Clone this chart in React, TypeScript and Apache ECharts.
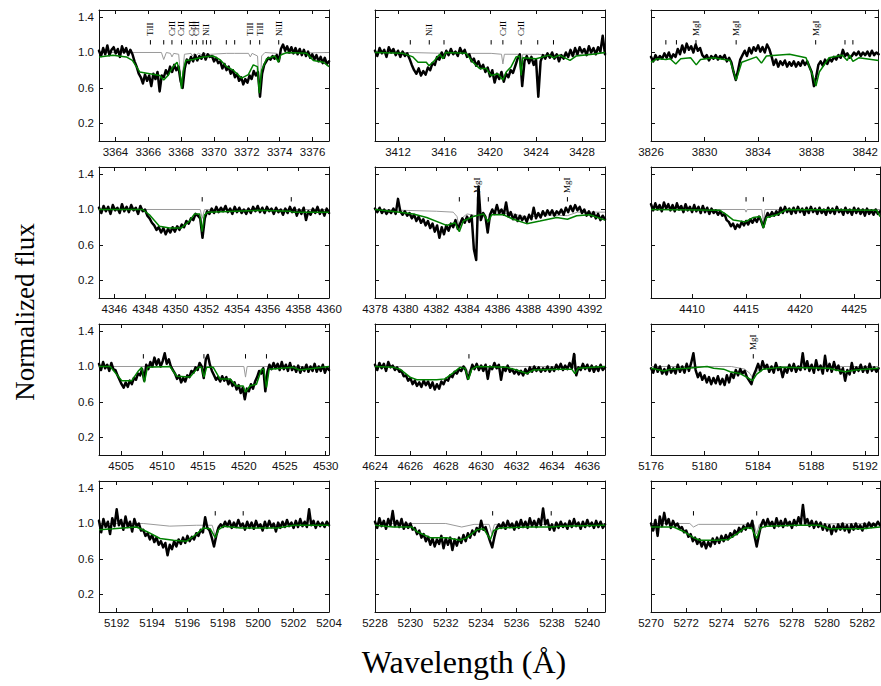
import React, { useEffect, useRef } from "react";
import * as echarts from "echarts";

// ---- wavelength windows (Å) and tick labels ----
const xlim1 = [3363, 3377];
const xlim2 = [3410, 3430];
const xlim3 = [3826, 3843];
const xlim4 = [4345, 4360];
const xlim5 = [4378, 4393];
const xlim6 = [4406.2, 4427.4];
const xlim7 = [4502.3, 4530.4];
const xlim8 = [4624, 4637];
const xlim9 = [5176, 5193];
const xlim10 = [5191, 5204];
const xlim11 = [5228, 5241];
const xlim12 = [5270, 5283];

const ticks1 = [3364, 3366, 3368, 3370, 3372, 3374, 3376];
const ticks2 = [3412, 3416, 3420, 3424, 3428];
const ticks3 = [3826, 3830, 3834, 3838, 3842];
const ticks4 = [4346, 4348, 4350, 4352, 4354, 4356, 4358, 4360];
const ticks5 = [4378, 4380, 4382, 4384, 4386, 4388, 4390, 4392];
const ticks6 = [4410, 4415, 4420, 4425];
const ticks7 = [4505, 4510, 4515, 4520, 4525, 4530];
const ticks8 = [4624, 4626, 4628, 4630, 4632, 4634, 4636];
const ticks9 = [5176, 5180, 5184, 5188, 5192];
const ticks10 = [5192, 5194, 5196, 5198, 5200, 5202, 5204];
const ticks11 = [5228, 5230, 5232, 5234, 5236, 5238, 5240];
const ticks12 = [5270, 5272, 5274, 5276, 5278, 5280, 5282];
const fluxTicks = [0.2, 0.6, 1.0, 1.4];

// ---- observed normalized flux, evenly sampled across each window ----
const obs1 = [1.02,0.96,1.05,0.98,1.08,0.97,1.03,1.06,0.99,1.04,0.95,1.07,1.0,1.05,0.97,1.03,0.98,0.9,0.84,0.76,0.72,0.65,0.75,0.68,0.74,0.62,0.76,0.7,0.78,0.56,0.74,0.72,0.8,0.75,0.84,0.78,0.86,0.8,0.84,0.68,0.6,0.82,0.92,0.88,0.95,0.9,0.97,0.91,0.96,0.93,0.99,0.92,0.98,0.95,0.96,0.9,0.94,0.88,0.9,0.82,0.87,0.8,0.84,0.76,0.8,0.72,0.76,0.68,0.72,0.64,0.7,0.66,0.74,0.7,0.79,0.74,0.78,0.5,0.76,0.86,0.9,0.94,0.92,0.96,0.93,0.97,0.9,1.04,1.09,1.02,1.07,1.0,1.06,0.99,1.05,0.98,1.04,0.97,1.03,0.96,1.01,0.94,0.98,0.92,0.97,0.9,0.95,0.88,0.94,0.87,0.9];
const obs2 = [1.02,0.96,1.05,0.99,1.03,0.95,1.06,1.0,1.04,0.97,1.02,0.95,1.01,0.96,0.99,0.93,0.86,0.8,0.76,0.82,0.74,0.79,0.75,0.83,0.8,0.88,0.86,0.95,0.92,1.0,0.94,1.02,0.97,1.04,0.98,1.01,0.96,1.05,0.99,1.03,0.95,0.98,0.9,0.93,0.85,0.9,0.82,0.86,0.78,0.83,0.73,0.8,0.66,0.76,0.7,0.78,0.67,0.76,0.72,0.8,0.77,0.85,0.93,0.98,0.62,0.9,0.96,0.88,0.95,0.86,0.92,0.5,0.9,0.97,0.93,0.99,0.94,1.0,0.93,0.98,0.9,0.97,0.93,1.0,0.95,1.03,0.96,1.05,0.98,1.06,1.0,1.04,0.97,1.07,1.0,1.05,0.98,1.06,1.01,1.19,0.98];
const obs3 = [0.95,0.9,0.97,0.92,0.96,0.93,0.99,0.94,1.0,0.93,0.98,0.95,1.04,0.98,1.08,1.0,1.1,1.03,1.07,1.0,1.09,1.02,1.05,0.97,0.94,0.97,0.91,0.96,0.93,0.97,0.92,0.96,0.93,0.97,0.9,0.94,0.89,0.78,0.69,0.8,0.92,0.97,1.02,0.96,1.05,0.99,1.06,1.02,1.08,1.01,1.06,1.0,1.09,1.04,0.96,0.86,0.92,0.84,0.9,0.86,0.91,0.84,0.89,0.85,0.9,0.84,0.89,0.85,0.91,0.86,0.9,0.84,0.78,0.62,0.72,0.86,0.9,0.85,0.92,0.87,0.93,0.9,0.95,0.92,0.97,0.94,1.03,0.96,0.99,0.94,0.96,1.0,0.97,1.01,0.96,1.0,0.97,1.01,0.96,1.02,0.97,1.0,0.98];
const obs4 = [1.02,0.96,1.04,0.98,1.03,0.95,1.05,0.99,1.02,0.96,1.06,0.98,1.03,0.97,1.05,0.99,1.02,0.95,1.04,0.98,1.0,0.93,0.9,0.85,0.82,0.77,0.8,0.74,0.79,0.72,0.78,0.74,0.8,0.75,0.81,0.77,0.83,0.8,0.87,0.84,0.9,0.88,0.95,0.93,0.9,0.68,0.9,0.98,0.95,1.01,0.96,1.03,0.97,1.02,0.98,1.04,0.97,1.01,0.95,1.03,0.97,1.02,0.96,1.0,0.95,1.01,0.96,1.03,0.98,1.04,0.97,1.02,0.96,1.03,0.98,1.01,0.95,1.02,0.97,1.0,0.94,1.01,0.96,1.03,0.97,1.02,0.93,1.0,0.95,1.02,0.88,0.98,0.94,1.01,0.96,1.03,0.95,1.0,0.93,1.01,0.96];
const obs5 = [1.01,0.97,1.02,0.96,1.0,0.95,0.99,0.96,1.01,0.95,1.12,0.98,0.94,0.98,0.93,0.96,0.9,0.94,0.87,0.92,0.85,0.89,0.82,0.87,0.79,0.84,0.75,0.82,0.68,0.8,0.72,0.82,0.76,0.84,0.8,0.88,0.78,0.84,0.9,0.85,0.92,0.86,0.93,0.55,0.43,1.26,0.88,0.96,0.92,0.74,0.94,1.0,0.95,1.05,0.96,1.0,0.94,1.08,0.92,0.97,0.89,0.94,0.87,0.93,0.88,0.92,0.86,0.94,0.89,1.02,0.9,0.96,0.91,0.98,0.93,0.99,0.94,0.99,0.93,0.98,0.95,1.0,0.94,1.02,0.97,1.04,0.98,1.05,0.99,1.03,0.96,1.0,0.93,0.98,0.92,0.97,0.9,0.95,0.88,0.93,0.89];
const obs6 = [1.06,0.99,1.07,1.0,1.05,0.98,1.08,1.01,1.06,0.99,1.05,0.98,1.07,1.0,1.04,0.97,1.06,0.99,1.03,0.97,1.05,0.98,1.03,0.96,1.04,0.97,1.02,0.95,1.01,0.96,0.99,0.94,0.98,0.93,0.95,0.88,0.86,0.81,0.84,0.78,0.83,0.8,0.86,0.82,0.87,0.83,0.89,0.85,0.9,0.86,0.92,0.87,0.8,0.9,0.96,0.92,0.97,0.93,0.98,0.94,1.02,0.96,1.03,0.97,1.01,0.95,1.02,0.96,1.03,0.97,1.01,0.94,1.02,0.96,1.03,0.97,1.01,0.95,1.02,0.96,1.0,0.94,1.02,0.96,1.01,0.95,1.03,0.97,1.0,0.94,1.02,0.96,1.0,0.94,1.02,0.96,1.01,0.95,1.0,0.93,1.01,0.95,0.99,0.94,1.0,0.95,0.98];
const obs7 = [1.03,0.96,1.05,0.98,1.02,0.95,1.04,0.97,0.96,0.9,0.85,0.8,0.76,0.82,0.77,0.84,0.8,0.87,0.85,0.92,0.9,0.97,0.84,1.02,0.97,1.05,1.0,1.1,1.02,1.08,1.0,1.06,1.15,1.03,1.08,1.0,0.96,0.92,0.86,0.9,0.82,0.87,0.83,0.9,0.88,0.95,0.93,0.99,0.96,1.04,1.0,0.87,1.08,1.13,1.02,0.95,0.9,0.85,0.88,0.83,0.89,0.84,0.88,0.8,0.85,0.78,0.82,0.74,0.79,0.7,0.76,0.63,0.75,0.72,0.8,0.75,0.83,0.88,0.95,0.92,0.98,0.72,0.94,1.02,0.97,1.04,0.98,1.03,0.96,1.05,0.97,1.02,0.95,1.04,0.96,1.0,0.94,1.01,0.93,0.99,0.95,1.02,0.94,1.0,0.95,1.03,0.94,1.0,0.95,1.02,0.93,0.99,0.96];
const obs8 = [1.02,0.96,1.04,0.98,1.03,0.95,1.05,0.99,1.01,0.96,0.99,0.94,0.95,0.89,0.9,0.84,0.87,0.8,0.84,0.78,0.82,0.77,0.84,0.79,0.83,0.76,0.82,0.74,0.8,0.75,0.83,0.8,0.86,0.84,0.9,0.88,0.94,0.92,0.97,0.95,1.0,0.96,0.86,0.93,1.02,0.97,1.03,0.96,1.01,0.95,1.02,0.86,1.0,0.97,1.04,0.98,1.02,0.85,0.99,0.95,1.01,0.94,0.97,0.92,0.96,0.91,0.95,0.9,0.97,0.92,0.99,0.94,1.0,0.95,0.99,0.94,0.98,0.95,1.0,0.94,0.99,0.95,1.02,0.97,1.03,0.96,1.01,0.97,1.04,0.98,1.14,0.9,0.99,0.96,1.03,0.97,1.02,0.95,1.01,0.94,1.0,0.95,1.02,0.96,0.99];
const obs9 = [0.98,0.93,1.02,0.94,1.0,0.92,0.97,0.91,1.01,0.93,0.98,0.92,1.02,0.94,1.0,0.93,1.03,0.95,1.04,1.15,0.96,0.88,0.93,0.85,0.9,0.82,0.88,0.8,0.87,0.81,0.89,0.8,0.86,0.79,0.9,0.82,0.92,0.87,0.96,0.9,0.97,0.92,0.95,0.88,0.84,0.8,0.9,0.96,1.03,0.95,1.06,0.98,1.02,0.94,1.0,0.93,1.04,0.96,0.99,0.88,0.98,0.93,1.02,0.95,1.03,0.94,1.0,0.96,1.15,0.97,1.06,0.95,1.02,0.93,1.07,0.96,1.01,0.92,1.12,0.95,1.03,0.94,1.05,0.96,1.01,0.92,0.98,0.84,0.96,0.91,1.04,0.93,0.99,0.95,1.02,0.94,1.0,0.93,1.03,0.95,0.99,0.94,0.98];
const obs10 = [1.03,0.9,1.05,0.96,1.02,0.88,1.06,0.97,1.16,0.98,1.04,0.93,1.08,0.96,1.02,0.91,1.05,0.97,1.0,0.92,0.93,0.86,0.89,0.82,0.87,0.79,0.84,0.76,0.8,0.73,0.78,0.64,0.76,0.71,0.8,0.74,0.82,0.77,0.84,0.78,0.86,0.8,0.85,0.82,0.89,0.86,0.93,0.9,1.07,0.95,0.92,0.84,0.74,0.86,0.95,0.99,0.96,1.02,0.97,1.03,0.95,1.01,0.96,1.04,0.97,1.0,0.93,1.02,0.95,1.01,0.94,1.03,0.96,0.99,0.92,1.02,0.95,1.03,0.96,1.0,0.91,1.01,0.95,1.02,0.96,1.04,0.97,1.01,0.95,1.03,0.96,1.05,0.97,1.02,0.96,1.16,0.98,1.03,0.95,1.02,0.97,1.01,0.96,1.02,0.98];
const obs11 = [1.02,0.95,1.06,0.97,1.03,0.94,1.05,0.98,1.14,0.97,1.03,0.96,1.05,0.94,1.01,0.95,1.0,0.93,0.95,0.88,0.92,0.84,0.88,0.8,0.85,0.76,0.83,0.74,0.82,0.77,0.86,0.72,0.83,0.76,0.84,0.7,0.82,0.75,0.84,0.78,0.87,0.8,0.89,0.84,0.92,0.87,0.95,0.91,1.03,0.93,0.96,0.88,0.8,0.73,0.85,0.95,0.99,0.95,1.01,0.94,1.03,0.96,1.0,0.93,1.02,0.95,1.04,0.96,1.02,0.95,1.06,0.97,1.03,0.96,1.05,0.98,1.17,0.99,1.04,0.93,0.99,0.92,1.01,0.95,1.02,0.96,1.0,0.94,1.03,0.96,1.05,0.97,1.01,0.94,1.02,0.96,1.04,0.97,1.01,0.95,1.03,0.96,1.02,0.95,0.99];
const obs12 = [1.0,0.92,1.04,0.86,1.08,0.97,1.12,0.99,1.05,0.95,1.03,0.97,1.0,0.94,0.96,0.9,0.92,0.85,0.88,0.8,0.84,0.77,0.82,0.74,0.8,0.72,0.79,0.74,0.83,0.77,0.84,0.78,0.86,0.8,0.87,0.82,0.89,0.85,0.92,0.88,0.95,0.91,0.97,0.93,1.0,0.95,1.03,0.86,0.74,0.87,0.98,1.04,0.97,1.05,0.98,1.02,0.95,1.06,0.97,1.03,0.96,1.05,0.98,1.02,0.95,1.04,0.98,1.07,0.99,1.21,1.0,1.05,0.97,1.03,0.95,1.02,0.96,1.01,0.93,0.99,0.92,0.98,0.88,0.97,0.91,0.99,0.93,1.0,0.92,0.98,0.9,0.99,0.93,1.0,0.94,0.98,0.92,1.0,0.95,1.01,0.96,1.0,0.97,1.02,0.98];

// ---- best-fit synthetic spectrum (green), [wavelength, flux] ----
const fit1 = [[3363,0.95],[3363.85,0.97],[3364.66,0.95],[3365.03,0.91],[3365.48,0.78],[3366.09,0.76],[3366.7,0.74],[3366.94,0.69],[3367.2,0.74],[3367.51,0.84],[3367.75,0.89],[3367.92,0.78],[3368.02,0.59],[3368.12,0.78],[3368.28,0.91],[3368.73,0.92],[3369.34,0.95],[3369.95,0.96],[3370.36,0.92],[3370.77,0.84],[3371.17,0.8],[3371.68,0.71],[3372.09,0.75],[3372.39,0.86],[3372.64,0.84],[3372.76,0.54],[3372.9,0.8],[3373.2,0.93],[3373.71,0.96],[3373.92,0.89],[3374.06,0.97],[3374.42,1.0],[3375.64,0.99],[3376.05,0.91],[3376.66,0.89],[3377,0.84]];
const fit2 = [[3410,1.0],[3412.43,0.99],[3413.3,0.95],[3413.74,0.89],[3414.46,0.89],[3414.7,0.85],[3415.18,0.91],[3415.62,0.98],[3415.91,0.93],[3416.14,1.0],[3417.93,0.99],[3418.51,0.89],[3419.09,0.82],[3419.67,0.82],[3420.1,0.74],[3420.68,0.76],[3421.12,0.69],[3421.41,0.78],[3421.84,0.84],[3422.27,0.95],[3422.56,0.96],[3422.71,0.74],[3422.85,0.94],[3424.01,0.93],[3425.17,0.97],[3425.52,0.94],[3426.03,0.97],[3426.96,0.91],[3427.48,0.96],[3428.93,0.98],[3430,1.0]];
const fit3 = [[3826,0.89],[3826.49,0.93],[3827.11,0.92],[3827.43,0.93],[3827.85,0.87],[3828.22,0.93],[3828.96,0.94],[3829.38,0.86],[3829.7,0.92],[3830.68,0.94],[3831.91,0.91],[3832.36,0.69],[3832.78,0.89],[3833.88,0.95],[3834.25,0.88],[3834.62,0.96],[3836.35,0.98],[3837.58,0.94],[3838.2,0.69],[3838.32,0.62],[3838.57,0.78],[3839.3,0.94],[3840.29,0.97],[3840.66,0.91],[3840.83,0.97],[3841.08,0.9],[3841.52,0.94],[3843,0.91]];
const fit4 = [[4345,1.0],[4347.85,1.0],[4348.29,0.94],[4348.94,0.81],[4349.6,0.79],[4350.36,0.79],[4350.9,0.87],[4351.23,0.95],[4351.56,0.95],[4351.73,0.75],[4351.88,0.94],[4352.1,0.97],[4355.48,0.99],[4357.44,0.98],[4357.66,0.97],[4360,0.97]];
const fit5 = [[4378,1.0],[4379.63,0.97],[4380.5,0.95],[4381.37,0.91],[4382.67,0.82],[4383.22,0.85],[4383.5,0.75],[4383.76,0.87],[4384.41,0.92],[4385.07,0.95],[4385.39,0.86],[4385.61,0.94],[4386.37,0.94],[4387.02,0.89],[4387.89,0.84],[4388.76,0.87],[4389.85,0.91],[4390.55,0.89],[4391.15,0.93],[4392.0,0.94],[4393,0.88]];
const fit6 = [[4406.2,1.0],[4412.59,0.99],[4413.21,0.94],[4413.83,0.88],[4414.91,0.86],[4415.68,0.91],[4416.3,0.92],[4416.6,0.79],[4416.91,0.91],[4417.84,0.94],[4418.77,1.0],[4427.1,0.99],[4427.4,0.92]];
const fit7 = [[4502.3,1.0],[4503.66,1.0],[4505.08,0.84],[4505.69,0.84],[4506.3,0.84],[4507.11,0.95],[4507.52,0.99],[4507.85,0.82],[4508.21,0.99],[4510.98,1.0],[4511.79,0.89],[4513.42,0.88],[4514.43,0.99],[4514.84,0.99],[4515.12,0.88],[4515.45,0.99],[4516.26,0.99],[4517.07,0.86],[4518.29,0.86],[4519.11,0.78],[4519.92,0.78],[4520.2,0.71],[4520.73,0.78],[4521.54,0.8],[4522.15,0.97],[4522.44,0.97],[4522.76,0.76],[4523.09,0.97],[4526.02,0.99],[4526.83,0.96],[4530.4,1.0]];
const fit8 = [[4624,1.0],[4625.04,0.99],[4625.41,0.97],[4625.98,0.88],[4626.36,0.85],[4627.49,0.85],[4627.96,0.86],[4628.43,0.93],[4628.81,0.99],[4629.09,0.98],[4629.28,0.85],[4629.47,0.97],[4629.75,1.0],[4631.44,0.99],[4632.01,0.96],[4632.58,0.92],[4632.95,0.96],[4634.46,0.97],[4635.12,0.97],[4635.3,0.92],[4635.49,0.98],[4637,1.0]];
const fit9 = [[5176,0.98],[5176.99,0.95],[5177.48,0.97],[5178.71,0.98],[5180.19,1.0],[5180.68,0.98],[5181.42,0.97],[5181.91,0.94],[5182.65,0.92],[5183.14,0.88],[5183.59,0.84],[5183.88,0.91],[5184.38,0.97],[5185.61,0.99],[5189.3,0.98],[5189.8,0.96],[5190.54,0.94],[5191.27,0.96],[5193,0.98]];
const fit10 = [[5191,0.93],[5191.8,0.94],[5193.12,0.96],[5193.69,0.91],[5194.45,0.83],[5195.21,0.81],[5195.96,0.8],[5196.44,0.87],[5196.91,0.95],[5197.29,0.94],[5197.57,0.84],[5197.76,0.93],[5198.05,0.97],[5198.99,0.95],[5200.13,0.95],[5201.08,0.95],[5202.02,0.98],[5204,0.98]];
const fit11 = [[5228,0.98],[5229.04,0.96],[5230.08,0.96],[5230.36,0.91],[5231.12,0.84],[5232.06,0.84],[5232.82,0.81],[5233.2,0.84],[5233.76,0.93],[5234.14,0.94],[5234.52,0.82],[5234.71,0.92],[5235.09,0.95],[5236.6,0.96],[5237.92,0.96],[5238.49,0.97],[5241,0.98]];
const fit12 = [[5270,0.96],[5271.28,0.96],[5271.85,0.91],[5272.41,0.84],[5272.79,0.81],[5273.73,0.81],[5274.39,0.82],[5274.86,0.88],[5275.33,0.95],[5275.71,0.95],[5276.0,0.83],[5276.21,0.95],[5276.55,0.97],[5278.25,0.98],[5279.57,0.98],[5280.13,0.94],[5282.01,0.94],[5283,0.96]];

// ---- atomic-line-only synthesis (grey), [wavelength, flux] ----
const lines1 = [[3363,1.0],[3366.8,1.0],[3366.94,0.92],[3367.1,1.0],[3367.35,0.99],[3367.44,0.95],[3367.55,0.99],[3367.85,0.98],[3368.02,0.6],[3368.2,0.98],[3368.6,0.99],[3368.68,0.96],[3368.8,0.99],[3368.93,0.97],[3369.05,0.99],[3369.33,0.97],[3369.45,0.99],[3369.54,0.98],[3369.8,0.98],[3370.75,0.99],[3371.26,0.99],[3372.1,0.99],[3372.21,0.95],[3372.32,0.99],[3372.65,0.96],[3372.78,0.5],[3372.9,0.96],[3373.1,1.0],[3373.85,0.99],[3373.94,0.9],[3374.05,0.99],[3377,1.0]];
const lines2 = [[3410,1.0],[3413,1.0],[3416,0.99],[3420.1,0.99],[3421.0,0.98],[3421.12,0.87],[3421.25,0.98],[3422.6,0.98],[3422.71,0.8],[3422.85,0.98],[3424.15,0.98],[3425.52,0.97],[3427,0.97],[3430,1.0]];
const lines3: number[][] = [];
const lines4 = [[4345,1.0],[4351.6,1.0],[4351.73,0.9],[4351.88,1.0],[4357.5,1.0],[4357.55,0.98],[4357.6,1.0],[4360,1.0]];
const lines5 = [[4378,1.0],[4380,0.99],[4382,0.98],[4383.1,0.97],[4383.35,0.92],[4383.5,0.78],[4383.65,0.9],[4384,0.95],[4384.6,0.93],[4384.68,0.88],[4384.8,0.95],[4385.39,0.88],[4385.55,0.96],[4387,0.95],[4388,0.91],[4389,0.94],[4390.55,0.93],[4391.2,0.97],[4393,0.97]];
const lines6 = [[4406.2,1.0],[4414.9,1.0],[4415.0,0.97],[4415.1,1.0],[4416.45,1.0],[4416.6,0.86],[4416.75,1.0],[4427.4,1.0]];
const lines7 = [[4502.3,1.0],[4520.0,1.0],[4520.2,0.88],[4520.4,1.0],[4530.4,1.0]];
const lines8 = [[4624,1.0],[4629.1,1.0],[4629.28,0.93],[4629.45,1.0],[4635.2,1.0],[4635.3,0.97],[4635.4,1.0],[4637,1.0]];
const lines9 = [[5176,1.0],[5182,1.0],[5183.0,0.97],[5183.4,0.92],[5183.59,0.87],[5183.8,0.93],[5184.3,0.99],[5185,1.0],[5193,1.0]];
const lines10 = [[5191,1.0],[5193.5,1.0],[5195,0.97],[5196.5,0.98],[5197.4,0.98],[5197.57,0.86],[5197.75,0.98],[5199.0,0.96],[5199.2,0.98],[5204,0.99]];
const lines11 = [[5228,1.0],[5232,1.0],[5232.9,0.96],[5233.6,0.99],[5234.45,0.99],[5234.6,0.88],[5234.75,0.99],[5237.9,0.99],[5237.96,0.97],[5238.05,0.99],[5241,1.0]];
const lines12 = [[5270,1.0],[5272.2,1.0],[5272.41,0.96],[5272.7,0.99],[5275.85,0.99],[5276.0,0.88],[5276.15,0.99],[5283,1.0]];

// ---- line identifications: [wavelength, species] ----
const marks1: [number, string][] = [[3366.13,"TiII"],[3366.94,""],[3367.44,"CrII"],[3368.02,"CrII"],[3368.68,"CrII"],[3368.93,"CrII"],[3369.33,""],[3369.54,"NiI"],[3369.8,""],[3370.75,""],[3371.26,""],[3372.21,"TiII"],[3372.78,"TiII"],[3373.94,"NiII"]];
const marks2: [number, string][] = [[3413.07,""],[3414.72,"NiI"],[3416.0,""],[3420.1,""],[3421.12,"CrII"],[3422.71,"CrII"],[3424.15,""],[3425.52,""]];
const marks3: [number, string][] = [[3827.11,""],[3827.9,""],[3829.36,"MgI"],[3832.36,"MgI"],[3838.3,"MgI"],[3840.49,""],[3841.08,""]];
const marks4: [number, string][] = [[4351.73,""],[4357.54,""]];
const marks5: [number, string][] = [[4383.5,""],[4384.68,"MgI"],[4385.39,""],[4390.55,"MgI"]];
const marks6: [number, string][] = [[4415.0,""],[4416.6,""]];
const marks7: [number, string][] = [[4507.72,""],[4515.12,""],[4520.2,""],[4522.76,""]];
const marks8: [number, string][] = [[4629.31,""],[4635.3,""]];
const marks9: [number, string][] = [[5183.64,"MgI"]];
const marks10: [number, string][] = [[5197.57,""],[5199.15,""]];
const marks11: [number, string][] = [[5234.65,""],[5237.96,""]];
const marks12: [number, string][] = [[5272.41,""],[5276.0,""]];

const panels = [
  { xlim: xlim1, ticks: ticks1, obs: obs1, fit: fit1, lines: lines1, marks: marks1 },
  { xlim: xlim2, ticks: ticks2, obs: obs2, fit: fit2, lines: lines2, marks: marks2 },
  { xlim: xlim3, ticks: ticks3, obs: obs3, fit: fit3, lines: lines3, marks: marks3 },
  { xlim: xlim4, ticks: ticks4, obs: obs4, fit: fit4, lines: lines4, marks: marks4 },
  { xlim: xlim5, ticks: ticks5, obs: obs5, fit: fit5, lines: lines5, marks: marks5 },
  { xlim: xlim6, ticks: ticks6, obs: obs6, fit: fit6, lines: lines6, marks: marks6 },
  { xlim: xlim7, ticks: ticks7, obs: obs7, fit: fit7, lines: lines7, marks: marks7 },
  { xlim: xlim8, ticks: ticks8, obs: obs8, fit: fit8, lines: lines8, marks: marks8 },
  { xlim: xlim9, ticks: ticks9, obs: obs9, fit: fit9, lines: lines9, marks: marks9 },
  { xlim: xlim10, ticks: ticks10, obs: obs10, fit: fit10, lines: lines10, marks: marks10 },
  { xlim: xlim11, ticks: ticks11, obs: obs11, fit: fit11, lines: lines11, marks: marks11 },
  { xlim: xlim12, ticks: ticks12, obs: obs12, fit: fit12, lines: lines12, marks: marks12 },
];

const FLUX_MAX = 1.48;
const colLeft = [99, 375, 651];
const rowTop = [10, 167, 324, 481];
const PANEL_W = 230;
const PANEL_H = 131;
const frame = "#111";
const sans = "Liberation Sans";
const serif = "Liberation Serif";

const sampled = (xlim: number[], flux: number[]) =>
  flux.map((f, i) => [xlim[0] + (i * (xlim[1] - xlim[0])) / (flux.length - 1), f]);

function buildOption() {
  const grid: any[] = [];
  const xAxis: any[] = [];
  const yAxis: any[] = [];
  const series: any[] = [];

  panels.forEach((p, i) => {
    const col = i % 3;
    const row = Math.floor(i / 3);
    grid.push({
      left: colLeft[col],
      top: rowTop[row],
      width: col === 2 ? PANEL_W - 1 : PANEL_W,
      height: PANEL_H,
      containLabel: false,
    });
    const xBase = {
      type: "value",
      gridIndex: i,
      min: p.xlim[0],
      max: p.xlim[1],
      splitLine: { show: false },
      axisLine: { show: true, onZero: false, lineStyle: { color: frame, width: 1 } },
      axisTick: { show: true, inside: true, length: 4, customValues: p.ticks, lineStyle: { color: frame } },
    };
    xAxis.push({
      ...xBase,
      position: "bottom",
      axisLabel: {
        show: true,
        customValues: p.ticks,
        margin: 5,
        fontSize: 11.5,
        fontFamily: sans,
        color: "#111",
        formatter: (v: number) => String(Math.round(v)),
      },
    });
    xAxis.push({ ...xBase, position: "top", axisLabel: { show: false } });

    const yBase = {
      type: "value",
      gridIndex: i,
      min: 0,
      max: FLUX_MAX,
      splitLine: { show: false },
      axisLine: { show: true, onZero: false, lineStyle: { color: frame, width: 1 } },
      axisTick: { show: true, inside: true, length: 4, customValues: fluxTicks, lineStyle: { color: frame } },
    };
    yAxis.push({
      ...yBase,
      position: "left",
      axisLabel: {
        show: col === 0,
        customValues: fluxTicks,
        margin: 5,
        fontSize: 11.5,
        fontFamily: sans,
        color: "#111",
        formatter: (v: number) => v.toFixed(1),
      },
    });
    yAxis.push({ ...yBase, position: "right", axisLabel: { show: false } });

    const axes = { xAxisIndex: 2 * i, yAxisIndex: 2 * i };
    if (p.lines.length) {
      series.push({
        type: "line",
        ...axes,
        data: p.lines,
        symbol: "none",
        silent: true,
        z: 2,
        lineStyle: { color: "#9a9a9a", width: 1 },
      });
    }
    series.push({
      type: "line",
      ...axes,
      data: sampled(p.xlim, p.obs),
      symbol: "none",
      silent: true,
      z: 3,
      lineStyle: { color: "#000", width: 2.5, join: "round", cap: "round" },
    });
    series.push({
      type: "line",
      ...axes,
      data: p.fit,
      symbol: "none",
      silent: true,
      z: 4,
      lineStyle: { color: "#008000", width: 1.5 },
    });
    const marks = p.marks;
    series.push({
      type: "custom",
      ...axes,
      silent: true,
      z: 5,
      data: marks.map((m) => [m[0]]),
      renderItem: (params: any, api: any) => {
        const wl = api.value(0);
        const label = marks[params.dataIndex][1];
        const a = api.coord([wl, 1.09]);
        const b = api.coord([wl, 1.14]);
        const c = api.coord([wl, 1.185]);
        const children: any[] = [
          {
            type: "line",
            shape: { x1: a[0], y1: a[1], x2: b[0], y2: b[1] },
            style: { stroke: "#000", lineWidth: 1 },
          },
        ];
        if (label) {
          children.push({
            type: "text",
            x: c[0],
            y: c[1],
            rotation: Math.PI / 2,
            style: {
              text: label,
              fill: "#000",
              fontSize: 9,
              fontFamily: serif,
              align: "left",
              verticalAlign: "middle",
            },
          });
        }
        return { type: "group", children };
      },
    });
  });

  return {
    animation: false,
    backgroundColor: "#fff",
    grid,
    xAxis,
    yAxis,
    series,
    graphic: [
      {
        type: "text",
        x: 25,
        y: 312,
        rotation: Math.PI / 2,
        style: {
          text: "Normalized flux",
          fill: "#000",
          fontSize: 27,
          fontFamily: serif,
          align: "center",
          verticalAlign: "middle",
        },
      },
      {
        type: "text",
        x: 464,
        y: 662,
        style: {
          text: "Wavelength (Å)",
          fill: "#000",
          fontSize: 32,
          fontFamily: serif,
          align: "center",
          verticalAlign: "middle",
        },
      },
    ],
  };
}

export default function App() {
  const ref = useRef<HTMLDivElement>(null);
  useEffect(() => {
    if (!ref.current) return;
    const chart = echarts.init(ref.current, undefined, { renderer: "svg" });
    chart.setOption(buildOption() as any);
    return () => chart.dispose();
  }, []);
  return (
    <div
      ref={ref}
      style={{ position: "absolute", left: 0, top: 0, width: 881, height: 686, background: "#fff" }}
    />
  );
}
